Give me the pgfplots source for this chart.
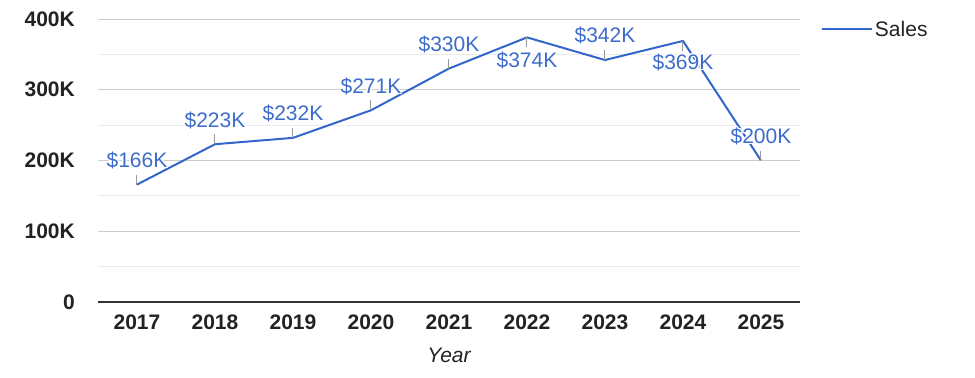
\documentclass[border=0pt]{standalone}
\usepackage{pgfplots}
\pgfplotsset{compat=1.18}
\usepackage{pgfplotstable}
\usepackage{fontspec}
\setmainfont{Liberation Sans}
\usepackage{contour}
\contourlength{1.3bp}
\contournumber{12}
\definecolor{lineblue}{HTML}{3366CC}
\definecolor{lblblue}{HTML}{3D6CCB}
\definecolor{ticktext}{HTML}{222222}
\definecolor{majgrid}{HTML}{CCCCCC}
\definecolor{mingrid}{HTML}{EBEBEB}
\definecolor{axisline}{HTML}{333333}
\definecolor{tickgray}{HTML}{999999}
\pgfdeclareplotmark{tickup}{\pgfpathmoveto{\pgfpointorigin}\pgfpathlineto{\pgfpoint{0pt}{10bp}}\pgfusepathqstroke}
\pgfdeclareplotmark{tickdn}{\pgfpathmoveto{\pgfpointorigin}\pgfpathlineto{\pgfpoint{0pt}{-10bp}}\pgfusepathqstroke}
\newcommand{\fs}{\fontsize{21bp}{25bp}\selectfont}
\pgfplotstableread{
x y s
0 166 23.5
1 223 23.5
2 232 23.5
3 271 23
4 330 23.5
5 374 -23.5
6 342 24
7 369 -22
8 200 23.5
}\salesdata
\begin{document}
\begin{tikzpicture}
\begin{axis}[
  width=702bp, height=283bp, scale only axis,
  xmin=-0.5, xmax=8.5, ymin=0, ymax=400,
  xtick={0,...,8}, xticklabels={2017,2018,2019,2020,2021,2022,2023,2024,2025},
  ytick={0,100,200,300,400}, yticklabels={0,100K,200K,300K,400K},
  minor ytick={50,150,250,350},
  ymajorgrids, yminorgrids,
  major grid style={majgrid, line width=1bp},
  minor grid style={mingrid, line width=1bp},
  axis x line*=bottom, axis y line*=left,
  y axis line style={draw=none},
  x axis line style={axisline, line width=1.3bp, -},
  major tick length=0pt, minor tick length=0pt,
  tick label style={font=\fs\bfseries, text=ticktext, inner sep=0pt},
  yticklabel style={anchor=east, xshift=-23bp},
  xticklabel style={anchor=north, yshift=-13bp},
  xlabel={Year},
  xlabel style={at={(axis description cs:0.5,0)}, anchor=north, yshift=-46bp, inner sep=0pt, font=\fs\itshape, text=ticktext},
  /pgf/number format/assume math mode=true,
  clip=false,
  legend style={at={(1,1)}, anchor=north west, xshift=21bp, yshift=0bp, draw=none, fill=none, font=\fs, text=ticktext, inner sep=0pt, outer sep=0pt},
  legend image code/.code={\draw[#1] (0bp,0bp) -- (44bp,0bp); \path (0bp,0bp) -- (50bp,0bp);},
  legend cell align=left,
]
\addplot[lineblue, line width=2bp, mark=none] table[x=x,y=y]{\salesdata};
\addlegendentry{Sales}
\addplot[forget plot, only marks, mark=tickup, tickgray, line width=1bp] coordinates {(0,166) (1,223) (2,232) (3,271) (4,330) (6,342) (8,200)};
\addplot[forget plot, only marks, mark=tickdn, tickgray, line width=1bp] coordinates {(5,374) (7,369)};
\addplot[forget plot, draw=none, mark=none,
  visualization depends on={\thisrow{s} \as \lshift},
  point meta=y,
  nodes near coords={\contour{white}{\$\pgfmathprintnumber[fixed,precision=0]{\pgfplotspointmeta}K}},
  every node near coord/.append style={anchor=center, yshift=\lshift bp, font=\fs, text=lblblue, inner sep=0pt},
] table[x=x,y=y]{\salesdata};
\end{axis}
\pgfresetboundingbox
\path[use as bounding box] ([shift={(-98bp,-76bp)}]current axis.south west) rectangle ([shift={(877bp,302bp)}]current axis.south west);
\end{tikzpicture}
\end{document}
